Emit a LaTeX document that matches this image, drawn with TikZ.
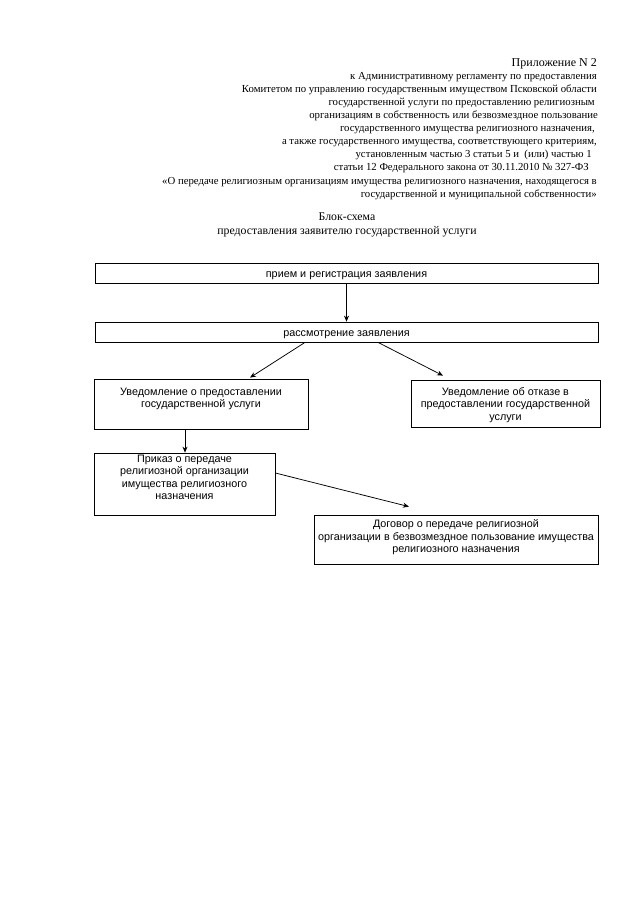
\documentclass[tikz,border=0pt]{standalone}
\usepackage{fontspec}
\setmainfont{Liberation Serif}
\newfontfamily\boxfont{Liberation Sans}
\usetikzlibrary{arrows.meta}
\newcommand{\boxtxt}[4]{\parbox[c][#2][t]{#1}{\centering\vspace*{#3}#4}}
\tikzset{
  hdr/.style={anchor=base east, inner sep=0pt, font=\fontsize{10.75}{12}\selectfont},
  ttl/.style={anchor=base, inner sep=0pt, font=\fontsize{11.8}{13}\selectfont},
  box/.style={draw=black, line width=0.75pt, inner sep=0pt, font=\boxfont\fontsize{10.8}{12.5}\selectfont},
  arr/.style={draw=black, line width=0.75pt, -{Stealth[length=6pt,width=5pt]}}
}
\begin{document}
\begin{tikzpicture}[x=1pt,y=-1pt]
\useasboundingbox[fill=white] (0,0) rectangle (640,905);
% header
\node[hdr, font=\fontsize{12}{12}\selectfont] (h1) at (597,66) {Приложение N 2};
\node[hdr] (h2) at (597,79) {к Административному регламенту по предоставления};
\node[hdr] (h3) at (597,92) {Комитетом по управлению государственным имуществом Псковской области};
\node[hdr] (h4) at (595,105) {государственной услуги по предоставлению религиозным};
\node[hdr] (h5) at (598,118) {организациям в собственность или безвозмездное пользование};
\node[hdr] (h6) at (595,131) {государственного имущества религиозного назначения,};
\node[hdr] (h7) at (597,144) {а также государственного имущества, соответствующего критериям,};
\node[hdr] (h8) at (592,157) {установленным частью 3 статьи 5 и \ (или) частью 1};
\node[hdr] (h9) at (589,170) {статьи 12 Федерального закона от 30.11.2010 № 327-ФЗ};
\node[hdr] (h10) at (597,184) {«О передаче религиозным организациям имущества религиозного назначения, находящегося в};
\node[hdr] (h11) at (597,197) {государственной и муниципальной собственности»};
% title
\node[ttl] (t1) at (347,220) {Блок-схема};
\node[ttl] (t2) at (347,234) {предоставления заявителю государственной услуги};
% boxes
\node[box] (b1) at (346.5,273) {\boxtxt{503pt}{20pt}{5.75pt}{\strut прием и регистрация заявления}};
\node[box] (b2) at (346.5,332) {\boxtxt{503pt}{20pt}{5.75pt}{\strut рассмотрение заявления}};
\node[box] (b3) at (201,404) {\boxtxt{214pt}{50pt}{7.25pt}{\strut Уведомление о предоставлении\\государственной услуги}};
\node[box] (b4) at (505.5,403.5) {\boxtxt{189pt}{47pt}{6.25pt}{\strut Уведомление об отказе в\\предоставлении государственной\\услуги}};
\node[box] (b5) at (184.5,484) {\boxtxt{181pt}{62pt}{0.5pt}{\strut Приказ о передаче\\религиозной организации\\имущества религиозного\\назначения}};
\node[box] (b6) at (456,539.5) {\boxtxt{284pt}{49pt}{4pt}{\strut Договор о передаче религиозной\\организации в безвозмездное пользование имущества\\религиозного назначения}};
% arrows
\draw[arr] (b1.south) -- (b2.north);
\draw[arr] ([xshift=-41.5pt]b2.south) -- ([xshift=49pt,yshift=1pt]b3.north);
\draw[arr] ([xshift=31.5pt]b2.south) -- ([xshift=-62.5pt,yshift=4pt]b4.north);
\draw[arr] ([xshift=-16pt]b3.south) -- ([xshift=0.5pt]b5.north);
\draw[arr] ([yshift=11pt]b5.east) -- ([xshift=-47pt,yshift=8pt]b6.north);
\end{tikzpicture}
\end{document}
